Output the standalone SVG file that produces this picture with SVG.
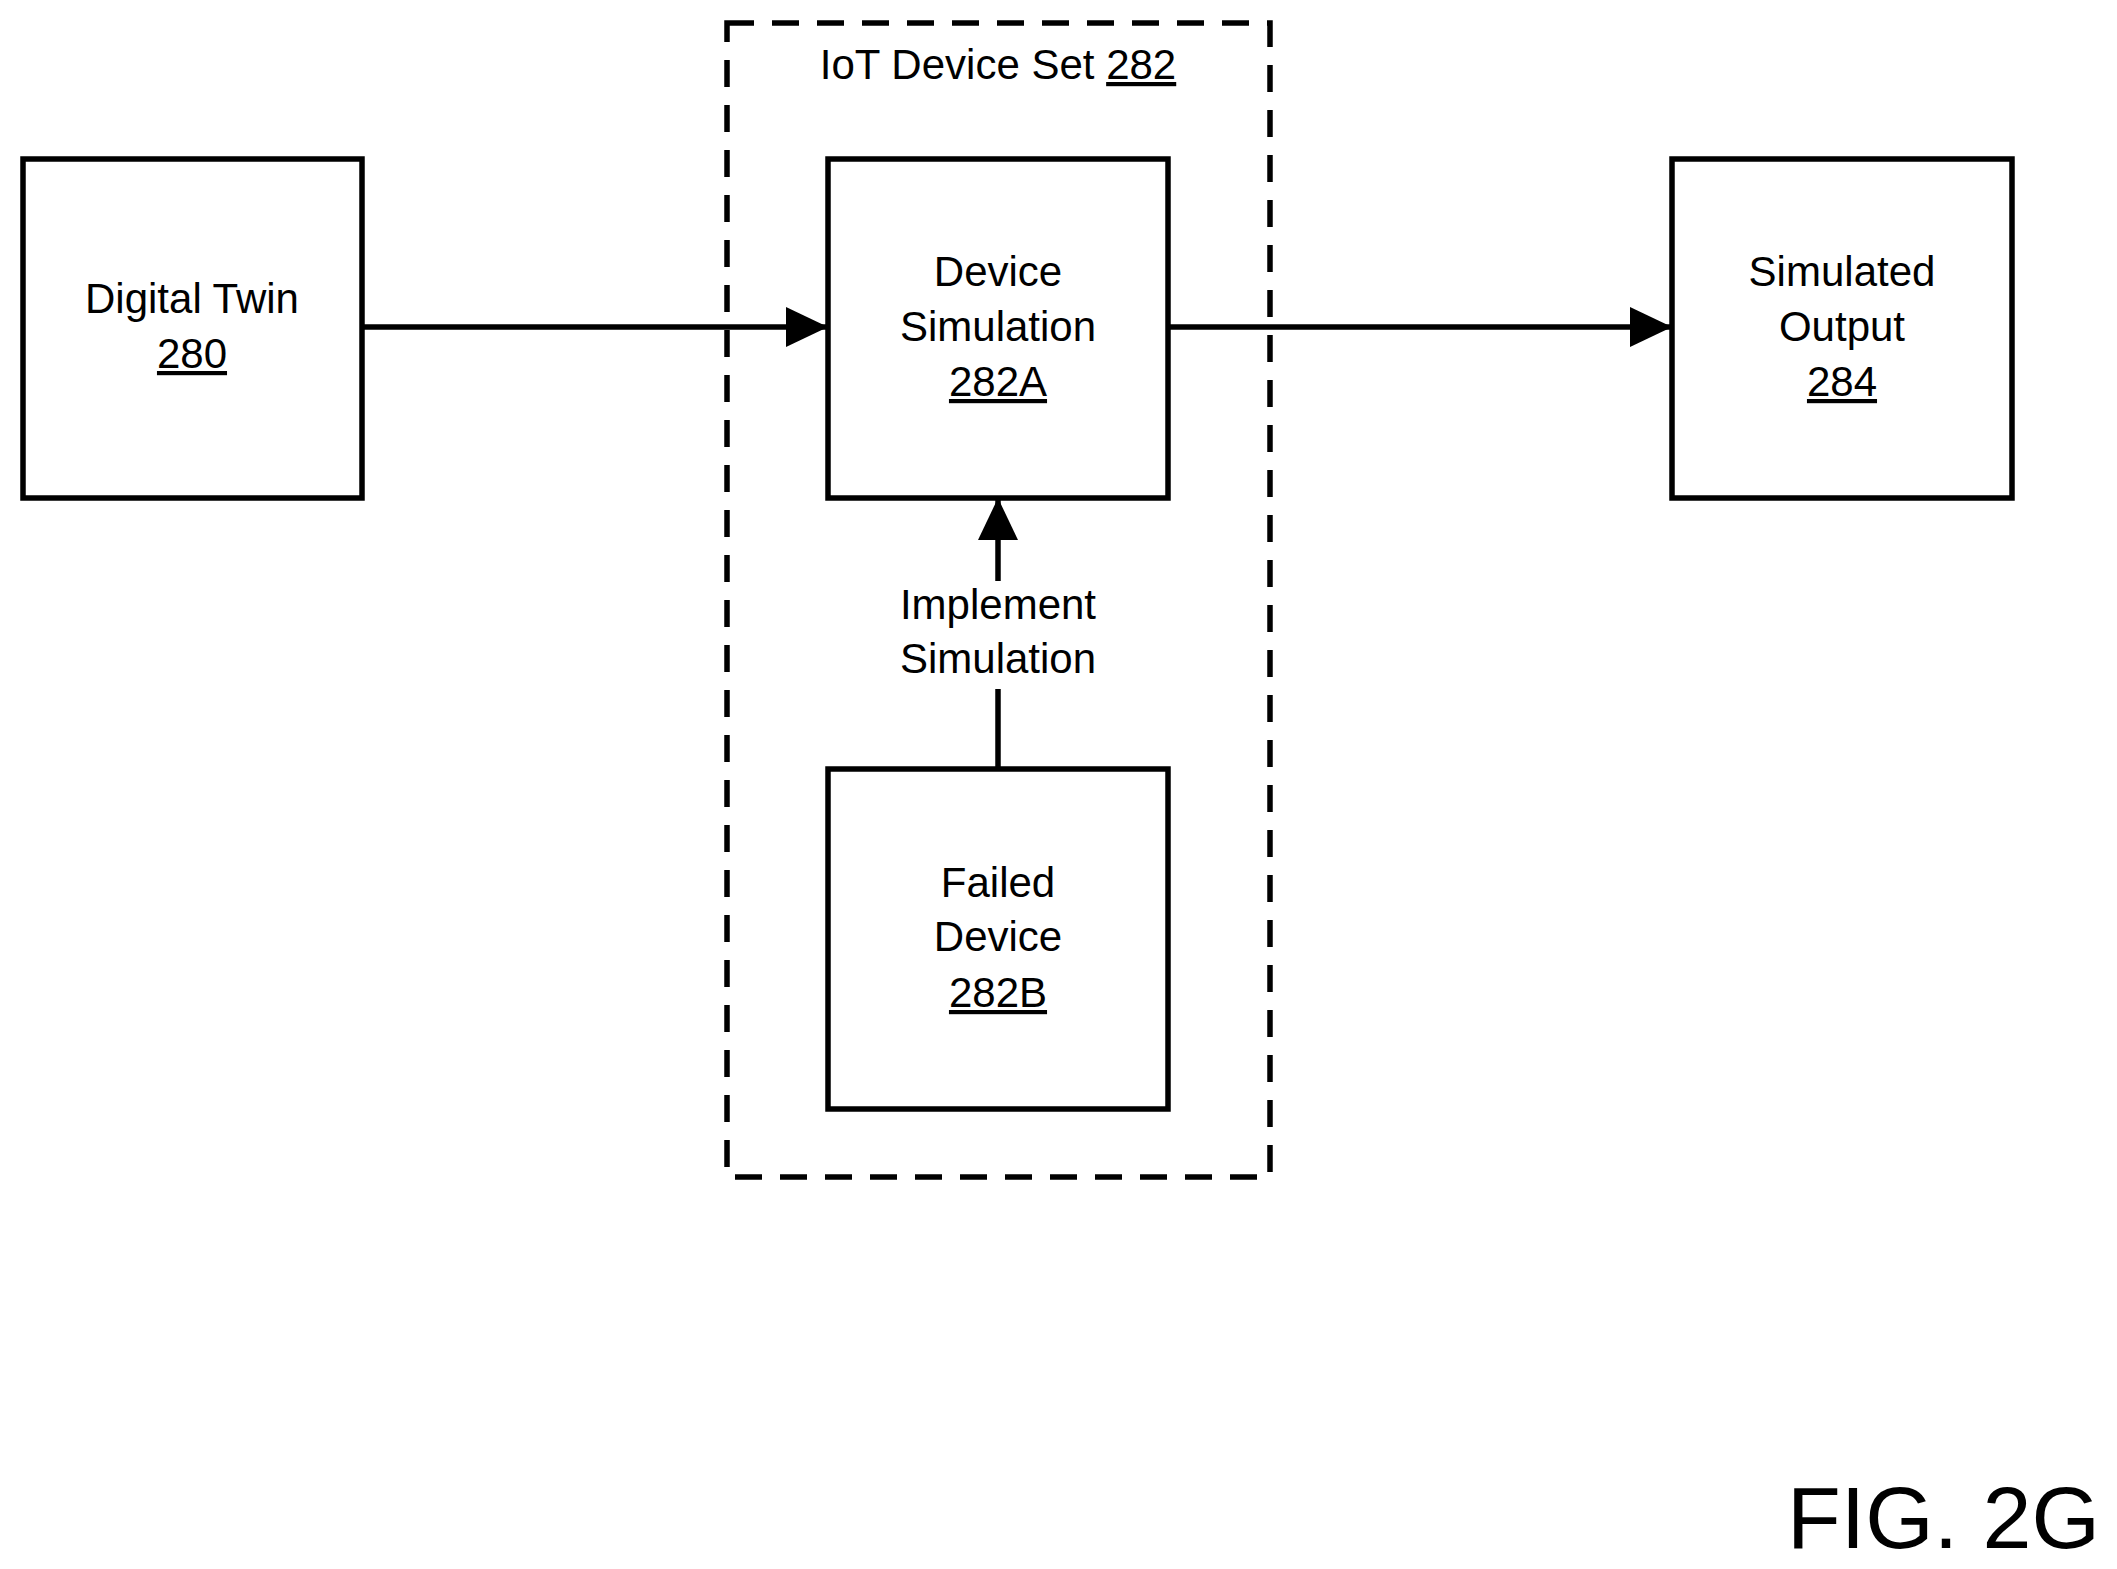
<svg xmlns="http://www.w3.org/2000/svg" width="2117" height="1569" viewBox="0 0 2117 1569">
<defs>
<style>
.box{fill:#fff;stroke:#000;stroke-width:5.5}
.t{font-family:"Liberation Sans",Arial,sans-serif;font-size:42px;text-anchor:middle;fill:#000}
.u{text-decoration:underline}
.c{stroke:#000;stroke-width:5.5;fill:none}
</style>
<marker id="ah" markerUnits="userSpaceOnUse" markerWidth="44" markerHeight="44" viewBox="0 0 44 44" refX="42" refY="22" orient="auto"><path d="M0,2 L42,22 L0,42 Z" fill="#000"/></marker>
</defs>
<rect width="2117" height="1569" fill="#fff"/>
<g id="iot-set">
<rect x="727" y="23" width="543" height="1154" fill="none" stroke="#000" stroke-width="5.5" stroke-dasharray="27,18"/>
<text class="t" x="998" y="79">IoT Device Set <tspan class="u">282</tspan></text>
</g>
<g id="connectors">
<line class="c" x1="362" y1="327" x2="828" y2="327" marker-end="url(#ah)"/>
<line class="c" x1="1168" y1="327" x2="1672" y2="327" marker-end="url(#ah)"/>
<line class="c" x1="998" y1="769" x2="998" y2="689"/>
<line class="c" x1="998" y1="581" x2="998" y2="498" marker-end="url(#ah)"/>
<text class="t" x="998" y="619">Implement</text>
<text class="t" x="998" y="673">Simulation</text>
</g>
<g id="digital-twin">
<rect class="box" x="23" y="159" width="339" height="339"/>
<text class="t" x="192" y="313">Digital Twin</text>
<text class="t u" x="192" y="368">280</text>
</g>
<g id="device-sim">
<rect class="box" x="828" y="159" width="340" height="339"/>
<text class="t" x="998" y="286">Device</text>
<text class="t" x="998" y="341">Simulation</text>
<text class="t u" x="998" y="396">282A</text>
</g>
<g id="failed-device">
<rect class="box" x="828" y="769" width="340" height="340"/>
<text class="t" x="998" y="897">Failed</text>
<text class="t" x="998" y="951">Device</text>
<text class="t u" x="998" y="1007">282B</text>
</g>
<g id="sim-output">
<rect class="box" x="1672" y="159" width="340" height="339"/>
<text class="t" x="1842" y="286">Simulated</text>
<text class="t" x="1842" y="341">Output</text>
<text class="t u" x="1842" y="396">284</text>
</g>
<text x="2100" y="1548" font-family="Liberation Sans,Arial,sans-serif" font-size="88" text-anchor="end">FIG. 2G</text>
</svg>
